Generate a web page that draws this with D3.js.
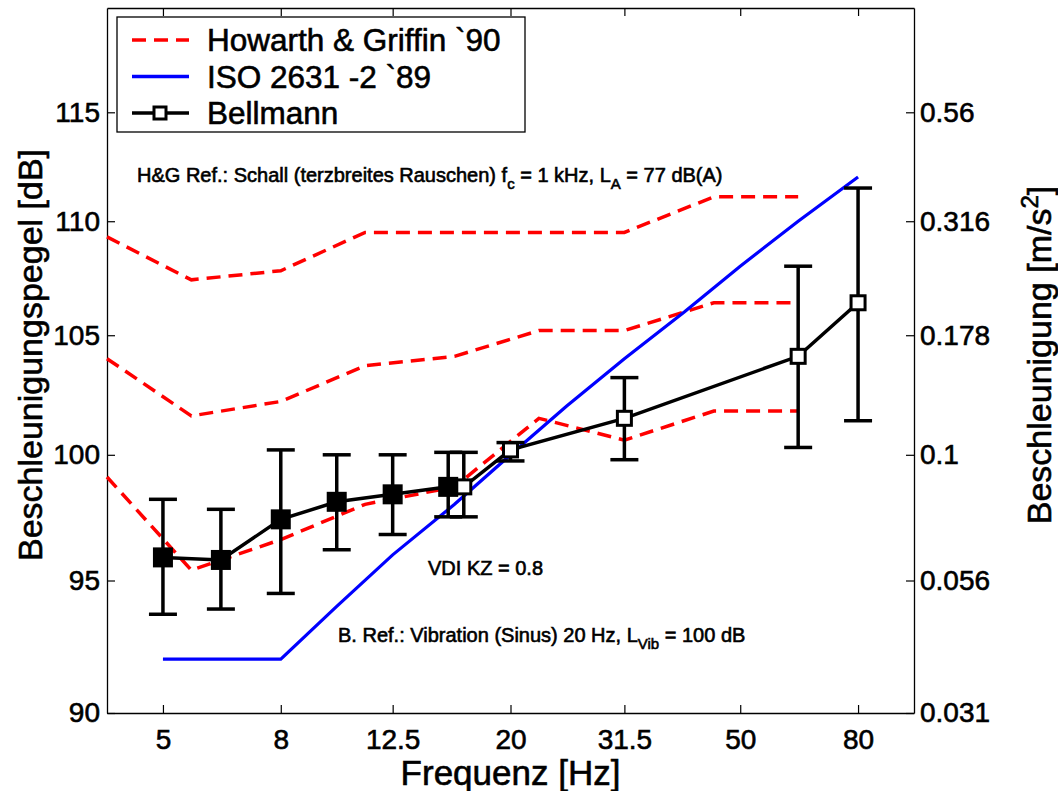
<!DOCTYPE html>
<html>
<head>
<meta charset="utf-8">
<script src="https://cdn.jsdelivr.net/npm/d3@7"></script>
<style>
  body { margin: 0; background: white; }
  text { font-family: "Liberation Sans", Arial, sans-serif; fill: black; stroke: black; stroke-width: 0.6px; }
</style>
</head>
<body>
<div id="chart"></div>
<script>
let w = 1058;
let h = 791;

// Howarth & Griffin (half octave points)
let hgFreq = [4, 5.6, 8, 11.2, 16, 22.4, 31.5, 45, 63];
let hgUpper = [109.3, 107.4, 107.8, 109.5, 109.5, 109.5, 109.5, 111.1, 111.1];
let hgMiddle = [104.0, 101.6, 102.2, 103.7, 104.1, 105.2, 105.2, 106.4, 106.4];
let hgLower = [99.1, 95.4, 96.6, 98.0, 98.7, 101.5, 100.6, 101.8, 101.8];

// ISO 2631-2
let isoFreq = [5, 6.3, 8, 10, 12.5, 16, 20, 25, 31.5, 40, 50, 63, 80];
let isoLevel = [92, 92, 92, 94, 96, 98, 100, 102, 104, 106, 108, 110, 112];

// Bellmann
let bFreq = [5, 6.3, 8, 10, 12.5, 15.6, 16.6, 20, 31.5, 63, 80];
let bMean = [95.9, 95.8, 97.4, 98.1, 98.4, 98.7, 98.7, 100.2, 101.5, 104.1, 106.4];
let bLow = [93.7, 93.9, 94.5, 96.2, 96.8, 97.5, 97.5, 99.75, 99.8, 100.3, 101.4];
let bHigh = [98.2, 97.8, 100.2, 100.0, 100.0, 100.1, 100.1, 100.5, 103.2, 108.0, 111.5];
let bFilled = [true, true, true, true, true, true, false, false, false, false, false];

let xTicks = [5, 8, 12.5, 20, 31.5, 50, 80];
let yTicks = [90, 95, 100, 105, 110, 115];
let yRightLabels = ["0.031", "0.056", "0.1", "0.178", "0.316", "0.56"];

let pLeft = 107, pRight = 914, pTop = 8, pBottom = 713;

let svg = d3.select("#chart").append("svg")
    .attr("width", w)
    .attr("height", h)
    .style("background-color", "white");

let x = d3.scaleLog().domain([4, 100]).range([pLeft, pRight]);
let y = d3.scaleLog().domain([90, 120]).range([pBottom, pTop]);

// axes
let bottomAxis = d3.axisBottom(x).tickValues(xTicks).tickFormat(d => d).tickSize(-8).tickSizeOuter(0).tickPadding(16);
let topAxis = d3.axisTop(x).tickValues(xTicks).tickFormat("").tickSize(-8).tickSizeOuter(0);
let leftAxis = d3.axisLeft(y).tickValues(yTicks).tickFormat(d => d).tickSize(-8).tickSizeOuter(0).tickPadding(7);
let rightAxis = d3.axisRight(y).tickValues(yTicks).tickFormat((d, i) => yRightLabels[i]).tickSize(-8).tickSizeOuter(0).tickPadding(6);

function styleAxis(g) {
    g.selectAll("path").attr("stroke", "black").attr("stroke-width", 1.3);
    g.selectAll("line").attr("stroke", "black").attr("stroke-width", 1.2);
    g.selectAll("text").attr("font-size", 28).attr("fill", "black")
        .style("font-family", "'Liberation Sans', Arial, sans-serif");
}

svg.append("g").attr("transform", "translate(0," + pBottom + ")").call(bottomAxis).call(styleAxis);
svg.append("g").attr("transform", "translate(0," + pTop + ")").call(topAxis).call(styleAxis);
svg.append("g").attr("transform", "translate(" + pLeft + ",0)").call(leftAxis).call(styleAxis);
svg.append("g").attr("transform", "translate(" + pRight + ",0)").call(rightAxis).call(styleAxis);

// axis titles
svg.append("text")
    .attr("x", (pLeft + pRight) / 2)
    .attr("y", 785)
    .attr("text-anchor", "middle")
    .attr("font-size", 35)
    .text("Frequenz [Hz]");

svg.append("text")
    .attr("transform", "translate(42,355) rotate(-90)")
    .attr("text-anchor", "middle")
    .attr("font-size", 34)
    .text("Beschleunigungspegel [dB]");

let rt = svg.append("text")
    .attr("transform", "translate(1051,355) rotate(-90)")
    .attr("text-anchor", "middle")
    .attr("font-size", 34);
rt.append("tspan").text("Beschleunigung [m/s");
rt.append("tspan").attr("font-size", 24).attr("dy", -13).text("2");
rt.append("tspan").attr("dy", 13).text("]");

// lines
let line = d3.line()
    .x(d => x(d[0]))
    .y(d => y(d[1]));

let hgSeries = [hgUpper, hgMiddle, hgLower];
hgSeries.forEach(function(vals) {
    svg.append("path")
        .datum(hgFreq.map((f, i) => [f, vals[i]]))
        .attr("d", line)
        .attr("fill", "none")
        .attr("stroke", "#ff0000")
        .attr("stroke-width", 3.5)
        .attr("stroke-dasharray", "14,8");
});

svg.append("path")
    .datum(isoFreq.map((f, i) => [f, isoLevel[i]]))
    .attr("d", line)
    .attr("fill", "none")
    .attr("stroke", "#0000ff")
    .attr("stroke-width", 3.2);

let bData = bFreq.map(function(f, i) {
    return {f: f, m: bMean[i], lo: bLow[i], hi: bHigh[i], filled: bFilled[i]};
});

svg.append("path")
    .datum(bData.map(d => [d.f, d.m]))
    .attr("d", line)
    .attr("fill", "none")
    .attr("stroke", "black")
    .attr("stroke-width", 3.5);

let eb = svg.append("g").attr("stroke", "black").attr("stroke-width", 3.5);
bData.forEach(function(d) {
    let cx = x(d.f);
    eb.append("line").attr("x1", cx).attr("x2", cx).attr("y1", y(d.lo)).attr("y2", y(d.hi));
    eb.append("line").attr("x1", cx - 14).attr("x2", cx + 14).attr("y1", y(d.lo)).attr("y2", y(d.lo));
    eb.append("line").attr("x1", cx - 14).attr("x2", cx + 14).attr("y1", y(d.hi)).attr("y2", y(d.hi));
});

svg.selectAll(".marker").data(bData).enter()
    .append("rect")
    .attr("class", "marker")
    .attr("x", d => x(d.f) - (d.filled ? 8.5 : 7))
    .attr("y", d => y(d.m) - (d.filled ? 8.5 : 7))
    .attr("width", d => d.filled ? 17 : 14)
    .attr("height", d => d.filled ? 17 : 14)
    .attr("fill", d => d.filled ? "black" : "white")
    .attr("stroke", "black")
    .attr("stroke-width", 3);

// annotations
let t1 = svg.append("text").attr("x", 137).attr("y", 182).attr("font-size", 20);
t1.append("tspan").text("H&G Ref.: Schall (terzbreites Rauschen) f");
t1.append("tspan").attr("font-size", 15).attr("dy", 7).text("c");
t1.append("tspan").attr("dy", -7).text(" = 1 kHz, L");
t1.append("tspan").attr("font-size", 15).attr("dy", 7).text("A");
t1.append("tspan").attr("dy", -7).text(" = 77 dB(A)");

svg.append("text").attr("x", 428).attr("y", 575).attr("font-size", 20).text("VDI KZ = 0.8");

let t3 = svg.append("text").attr("x", 338).attr("y", 642).attr("font-size", 20);
t3.append("tspan").text("B. Ref.: Vibration (Sinus) 20 Hz, L");
t3.append("tspan").attr("font-size", 15).attr("dy", 7).text("Vib");
t3.append("tspan").attr("dy", -7).text(" = 100 dB");

// legend
let legend = svg.append("g");
legend.append("rect")
    .attr("x", 117).attr("y", 17)
    .attr("width", 408).attr("height", 115)
    .attr("fill", "white")
    .attr("stroke", "black")
    .attr("stroke-width", 1.3);

let legendItems = [
    {label: "Howarth & Griffin `90", color: "#ff0000", dash: "14,8", marker: false},
    {label: "ISO 2631 -2 `89", color: "#0000ff", dash: null, marker: false},
    {label: "Bellmann", color: "black", dash: null, marker: true}
];
legendItems.forEach(function(item, i) {
    let cy = 40 + i * 36.5;
    legend.append("line")
        .attr("x1", 132).attr("x2", 189)
        .attr("y1", cy).attr("y2", cy)
        .attr("stroke", item.color)
        .attr("stroke-width", 3.5)
        .attr("stroke-dasharray", item.dash);
    if (item.marker) {
        legend.append("rect")
            .attr("x", 154).attr("y", cy - 6)
            .attr("width", 12).attr("height", 12)
            .attr("fill", "white")
            .attr("stroke", "black")
            .attr("stroke-width", 3);
    }
    legend.append("text")
        .attr("x", 207)
        .attr("y", cy + 11)
        .attr("font-size", 31.5)
        .text(item.label);
});
</script>
</body>
</html>
